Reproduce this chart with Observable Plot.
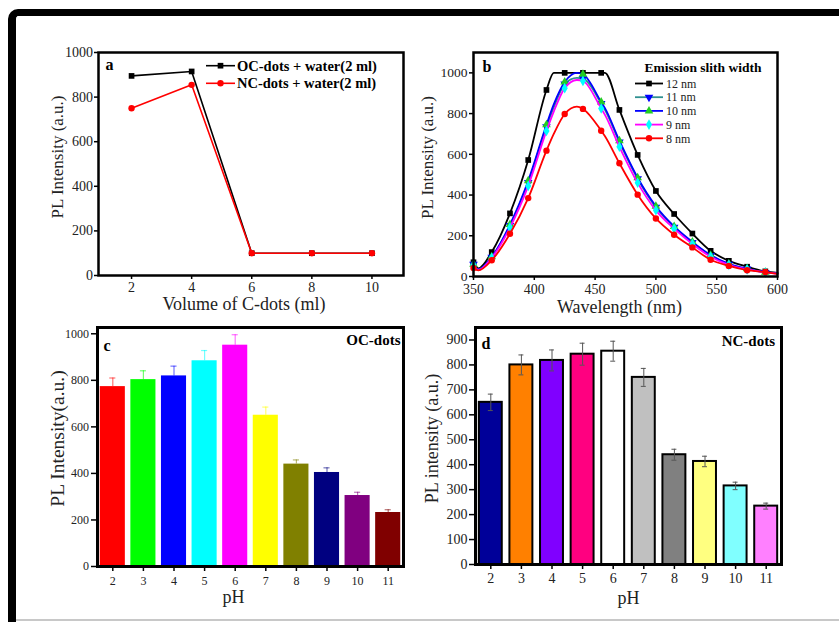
<!DOCTYPE html>
<html>
<head>
<meta charset="utf-8">
<script src="https://cdn.jsdelivr.net/npm/d3@7"></script>
<script src="https://cdn.jsdelivr.net/npm/@observablehq/plot@0.6"></script>
<style>
  html, body { margin: 0; padding: 0; background: #fff; }
  #page { position: relative; width: 839px; height: 622px; overflow: hidden; background: #fff; }
  #border { position: absolute; left: 8px; top: 9px; width: 900px; height: 700px;
            border-left: 8px solid #000; border-top: 7px solid #000; border-top-left-radius: 10px; }
  #rule { position: absolute; left: 16px; top: 619px; width: 823px; height: 2px; background: #c8c8c8; }
  .panel { position: absolute; }
</style>
</head>
<body>
<div id="page">
  <div id="border"></div>
  <div id="rule"></div>
  <div class="panel" id="pa" style="left:20px;top:20px"></div>
  <div class="panel" id="pb" style="left:420px;top:20px"></div>
  <div class="panel" id="pc" style="left:20px;top:320px"></div>
  <div class="panel" id="pd" style="left:420px;top:320px"></div>
</div>
<script>
// (a) PL intensity against added volume of C-dots
const volume = [2, 4, 6, 8, 10];
const ocWater = [895, 915, 100, 100, 100];
const ncWater = [750, 855, 100, 100, 100];

// (b) emission spectra for different emission slit widths
const wavelength = [350, 354, 365, 380, 395, 410, 416, 425, 435, 440, 455, 458, 470, 485, 500, 515, 530, 545, 560, 575, 590, 600];
const slit12 = [70, 40, 120, 310, 572, 916, 1000, 1000, 1000, 1000, 1000, 1000, 818, 597, 420, 307, 211, 126, 77, 48, 25, 18];
const slit11 = [60, 35, 95, 250, 462, 735, 830, 945, 975, 972, 850, 820, 660, 480, 340, 242, 167, 103, 60, 37, 20, 15];
const slit10 = [60, 35, 97, 255, 470, 745, 845, 955, 1000, 993, 857, 828, 667, 485, 345, 246, 170, 105, 62, 38, 21, 15];
const slit9 = [55, 32, 92, 240, 445, 715, 810, 925, 965, 960, 825, 795, 637, 460, 325, 235, 160, 97, 57, 35, 20, 14];
const slit8 = [42, 30, 80, 210, 385, 618, 700, 798, 834, 823, 716, 690, 556, 402, 285, 205, 143, 82, 52, 31, 22, 13];

// (c), (d) PL intensity against pH
const pH = [2, 3, 4, 5, 6, 7, 8, 9, 10, 11];
const ocPL = [773, 803, 819, 884, 951, 650, 440, 404, 305, 232];
const ocErr = [37, 38, 42, 44, 45, 35, 18, 20, 14, 12];
const ncPL = [650, 800, 818, 843, 855, 750, 440, 413, 315, 234];
const ncErr = [33, 40, 42, 44, 40, 36, 22, 21, 15, 12];
const ocColors = ["#ff0000", "#00ff00", "#0000ff", "#00ffff", "#ff00ff", "#ffff00", "#808000", "#000080", "#800080", "#800000"];
const ncColors = ["#000099", "#ff8000", "#8000ff", "#ff0080", "#ffffff", "#c0c0c0", "#808080", "#ffff80", "#80ffff", "#ff80ff"];

const serif = "Liberation Serif";
const ink = "#222";
const symbolTypes = {square: d3.symbolSquare, circle: d3.symbolCircle, triangle: d3.symbolTriangle, diamond: d3.symbolDiamond};
const dotR = 3.2;
const plain = d3.format("d");

function axisY(o) {
  return Plot.axisY({ticks: o.ticks, tickSize: o.tickSize, tickPadding: o.tickPadding, fontSize: o.fontSize,
                     fontFamily: serif, tickFormat: plain, fill: ink, stroke: "#000", strokeWidth: 1.5, label: null});
}
function axisX(o) {
  return Plot.axisX({ticks: o.ticks, tickSize: o.tickSize, tickPadding: o.tickPadding, fontSize: o.fontSize,
                     fontFamily: serif, tickFormat: plain, fill: ink, stroke: "#000", strokeWidth: 1.5, label: null});
}

function titles(o) {
  return [
    Plot.text([o.yTitle], {frameAnchor: "left", text: Plot.identity, rotate: -90, dx: o.ydx, dy: o.ydy,
                           textAnchor: "middle", lineAnchor: "middle",
                           fontSize: o.ySize, fontFamily: serif, fill: ink}),
    Plot.text([o.xTitle], {frameAnchor: "bottom", text: Plot.identity, dx: o.xdx, dy: o.xdy,
                           textAnchor: "middle", lineAnchor: "middle",
                           fontSize: o.xSize, fontFamily: serif, fill: ink})
  ];
}

function tag(text, anchor, dx, dy, size = 16) {
  return Plot.text([text], {frameAnchor: anchor, text: Plot.identity, dx, dy, fontSize: size, fontWeight: "bold",
                            fontFamily: serif, fill: "#000", lineAnchor: "middle",
                            textAnchor: anchor.endsWith("right") ? "end" : "start"});
}

function drawLegend(svg, items, o) {
  const g = d3.select(svg).append("g").attr("font-family", serif).attr("font-size", o.fontSize)
    .attr("font-weight", o.weight || "normal").attr("text-anchor", "start");
  if (o.title) {
    g.append("text").attr("x", o.title.x).attr("y", o.title.y).attr("dy", "0.35em").attr("text-anchor", "middle")
      .attr("font-weight", "bold").attr("font-size", o.title.size).attr("fill", "#000").text(o.title.text);
  }
  items.forEach((it, i) => {
    const y = o.y0 + i * o.step;
    g.append("line").attr("x1", o.x0).attr("x2", o.x1).attr("y1", y).attr("y2", y)
      .attr("stroke", it.line).attr("stroke-width", o.lineWidth);
    g.append("path").attr("d", d3.symbol(symbolTypes[it.symbol], Math.PI * dotR * dotR)())
      .attr("transform", `translate(${o.mx},${y}) rotate(${it.rotate || 0})`).attr("fill", it.mark);
    g.append("text").attr("x", o.tx).attr("y", y).attr("dy", "0.35em").attr("fill", o.textFill || ink).text(it.name);
  });
}

const baseStyle = {background: "transparent", fontFamily: serif, overflow: "visible"};

// ---------- (a) ----------
const seriesA = [
  {name: "OC-dots + water(2 ml)", values: ocWater, line: "#000000", mark: "#000000", symbol: "square"},
  {name: "NC-dots + water(2 ml)", values: ncWater, line: "#ff0000", mark: "#ff0000", symbol: "circle"}
];
const svgA = Plot.plot({
  width: 400, height: 300, marginLeft: 78, marginRight: 17, marginTop: 32, marginBottom: 45,
  style: baseStyle,
  x: {domain: [0.9, 11.05]},
  y: {domain: [0, 1000]},
  marks: [
    axisY({ticks: [0, 200, 400, 600, 800, 1000], fontSize: 14, tickSize: 4, tickPadding: 1.5}),
    axisX({ticks: volume, fontSize: 14, tickSize: 4, tickPadding: 3}),
    ...seriesA.flatMap(s => {
      const rows = volume.map((v, i) => ({volume: v, pl: s.values[i]}));
      return [
        Plot.line(rows, {x: "volume", y: "pl", stroke: s.line, strokeWidth: 1.6}),
        Plot.dot(rows, {x: "volume", y: "pl", fill: s.mark, r: dotR, symbol: s.symbol})
      ];
    }),
    Plot.frame({stroke: "#000", strokeWidth: 2.5}),
    tag("a", "top-left", 7, 12),
    ...titles({yTitle: "PL Intensity (a.u.)", ydx: -41, ydy: -7, ySize: 17,
               xTitle: "Volume of C-dots (ml)", xdx: -7, xdy: 29, xSize: 18})
  ]
});
drawLegend(svgA, seriesA, {x0: 186, x1: 215, mx: 200.5, tx: 217, y0: 45.7, step: 17.6,
                           fontSize: 14.5, weight: "bold", lineWidth: 1.6, textFill: "#000"});
document.getElementById("pa").append(svgA);

// ---------- (b) ----------
const slitSeries = [
  {name: "12 nm", values: slit12, line: "#000000", mark: "#000000", symbol: "square", rotate: 0},
  {name: "11 nm", values: slit11, line: "#2f9090", mark: "#0000ff", symbol: "triangle", rotate: 180},
  {name: "10 nm", values: slit10, line: "#0000ff", mark: "#22cc22", symbol: "triangle", rotate: 0},
  {name: "9 nm", values: slit9, line: "#ff00ff", mark: "#00ffff", symbol: "diamond", rotate: 0},
  {name: "8 nm", values: slit8, line: "#ff0000", mark: "#ff0000", symbol: "circle", rotate: 0}
];
const svgB = Plot.plot({
  width: 419, height: 300, marginLeft: 53, marginRight: 62, marginTop: 32, marginBottom: 44,
  style: baseStyle,
  x: {domain: [350, 600]},
  y: {domain: [0, 1100]},
  marks: [
    axisY({ticks: [0, 200, 400, 600, 800, 1000], fontSize: 13.5, tickSize: 4, tickPadding: 2}),
    axisX({ticks: [350, 400, 450, 500, 550, 600], fontSize: 14, tickSize: 4, tickPadding: 4}),
    ...slitSeries.flatMap(s => {
      const rows = wavelength.map((w, i) => ({w, v: s.values[i]}));
      const marked = rows.filter(d => (d.w - 350) % 15 === 0 && d.w < 600);
      return [
        Plot.line(rows, {x: "w", y: "v", stroke: s.line, strokeWidth: 1.8, curve: "monotone-x"}),
        Plot.dot(marked, {x: "w", y: "v", fill: s.mark, r: dotR, symbol: s.symbol, rotate: s.rotate})
      ];
    }),
    Plot.frame({stroke: "#000", strokeWidth: 2.5}),
    tag("b", "top-left", 9, 14),
    ...titles({yTitle: "PL Intensity (a.u.)", ydx: -46, ydy: -7, ySize: 17,
               xTitle: "Wavelength (nm)", xdx: -6, xdy: 31, xSize: 18})
  ]
});
drawLegend(svgB, slitSeries, {x0: 215, x1: 243, mx: 229, tx: 246, y0: 63.5, step: 13.7,
                              fontSize: 12, lineWidth: 1.8,
                              title: {text: "Emission slith width", x: 283, y: 47, size: 13.5}});
document.getElementById("pb").append(svgB);

// ---------- (c) ----------
const ocRows = pH.map((p, i) => ({pH: p, pl: ocPL[i], err: ocErr[i], color: ocColors[i]}));
const svgC = Plot.plot({
  width: 400, height: 300, marginLeft: 77, marginRight: 17, marginTop: 7, marginBottom: 54,
  style: baseStyle,
  x: {type: "band", domain: pH, paddingInner: 0.18, paddingOuter: 0.09, round: false},
  y: {domain: [0, 1027]},
  color: {type: "identity"},
  marks: [
    axisY({ticks: [0, 200, 400, 600, 800, 1000], fontSize: 12, tickSize: 6, tickPadding: 2.5}),
    axisX({fontSize: 12, tickSize: 5, tickPadding: 5}),
    Plot.barY(ocRows, {x: "pH", y: "pl", fill: "color"}),
    Plot.ruleX(ocRows, {x: "pH", y1: "pl", y2: d => d.pl + d.err, stroke: "color", strokeOpacity: 0.55, strokeWidth: 1.2}),
    Plot.tickY(ocRows, {x: "pH", y: d => d.pl + d.err, stroke: "color", strokeOpacity: 0.55, strokeWidth: 1.2,
                        insetLeft: 9.5, insetRight: 9.5}),
    Plot.frame({stroke: "#000", strokeWidth: 3}),
    tag("c", "top-left", 6, 18.5),
    tag("OC-dots", "top-right", -3, 13, 15),
    ...titles({yTitle: "PL Intensity(a.u.)", ydx: -40, ydy: -8.5, ySize: 19.5,
               xTitle: "pH", xdx: -17, xdy: 31, xSize: 18})
  ]
});
document.getElementById("pc").append(svgC);

// ---------- (d) ----------
const ncRows = pH.map((p, i) => ({pH: p, pl: ncPL[i], err: ncErr[i], color: ncColors[i]}));
const svgD = Plot.plot({
  width: 419, height: 300, marginLeft: 55, marginRight: 58, marginTop: 7, marginBottom: 56,
  style: baseStyle,
  x: {type: "band", domain: pH, paddingInner: 0.25, paddingOuter: 0.125, round: false},
  y: {domain: [0, 950]},
  color: {type: "identity"},
  marks: [
    axisY({ticks: [0, 100, 200, 300, 400, 500, 600, 700, 800, 900], fontSize: 14, tickSize: 6, tickPadding: 2}),
    axisX({fontSize: 14, tickSize: 5, tickPadding: 4}),
    Plot.barY(ncRows, {x: "pH", y: "pl", fill: "color", stroke: "#000", strokeWidth: 2}),
    Plot.ruleX(ncRows, {x: "pH", y1: d => d.pl - d.err, y2: d => d.pl + d.err, stroke: "#555", strokeWidth: 1}),
    Plot.tickY(ncRows, {x: "pH", y: d => d.pl + d.err, stroke: "#555", strokeWidth: 1, insetLeft: 9, insetRight: 9}),
    Plot.tickY(ncRows, {x: "pH", y: d => d.pl - d.err, stroke: "#555", strokeWidth: 1, insetLeft: 9, insetRight: 9}),
    Plot.frame({stroke: "#000", strokeWidth: 3}),
    tag("d", "top-left", 6, 16.5),
    tag("NC-dots", "top-right", -6.5, 13.7, 15),
    ...titles({yTitle: "PL intensity (a.u.)", ydx: -43, ydy: -7.5, ySize: 18,
               xTitle: "pH", xdx: 0, xdy: 34, xSize: 18})
  ]
});
document.getElementById("pd").append(svgD);
</script>
</body>
</html>
